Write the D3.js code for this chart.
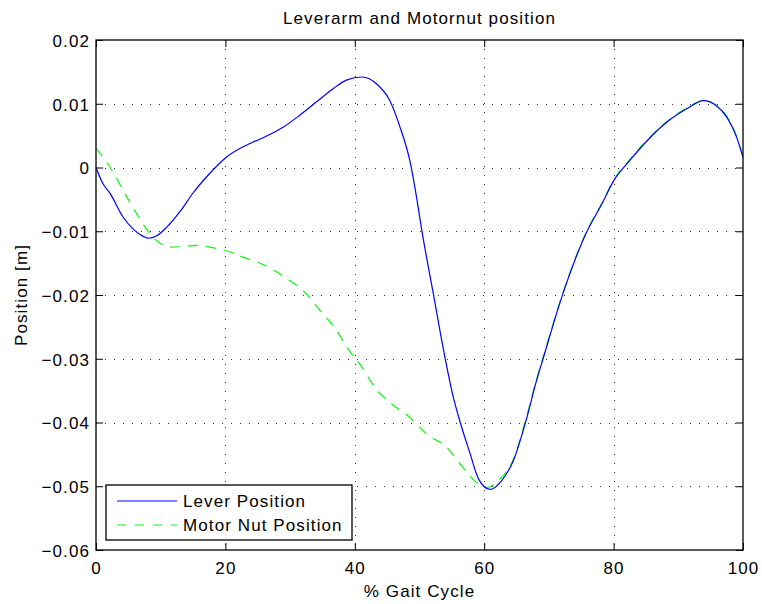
<!DOCTYPE html>
<html>
<head>
<meta charset="utf-8">
<script src="https://cdn.jsdelivr.net/npm/d3@7"></script>
<style>
body { margin:0; background:#fff; }
svg text { font-family:"Liberation Sans", Arial, Helvetica, sans-serif; fill:#000; letter-spacing:1.1px; }
.grid line { stroke:#333; stroke-width:1; stroke-dasharray:1,8; }
</style>
</head>
<body>
<svg id="chart"></svg>
<script>
// values
var leverPct = [0,1.0,2.2,4.2,5.8,7.3,8.1,9.4,10.9,13.0,15.0,17.6,20.0,24.3,25.9,28.9,31.5,34.1,36.7,38.7,41.1,43.4,45.4,47.0,48.5,49.6,50.3,52.1,53.9,55.1,56.3,57.8,59.1,60.9,62.7,64.5,66.3,68.1,69.1,72.0,75.8,78.2,80.0,82.5,85.0,88.2,91.3,93.9,95.9,97.5,99.0,100];
var leverPos = [0,-0.0024,-0.0041,-0.0078,-0.0097,-0.0108,-0.0111,-0.0107,-0.0094,-0.0069,-0.0040,-0.0009,0.0015,0.0040,0.0047,0.0063,0.0082,0.0103,0.0124,0.0137,0.0142,0.0131,0.0105,0.0063,0.0011,-0.0050,-0.0095,-0.0196,-0.0296,-0.0355,-0.0400,-0.0448,-0.0488,-0.0505,-0.0491,-0.0460,-0.0403,-0.0334,-0.0300,-0.0203,-0.0102,-0.0057,-0.0021,0.0011,0.0040,0.0071,0.0092,0.0105,0.0097,0.0079,0.0048,0.0016];

var nutPct = [0,2.2,4.2,6.3,8.6,10.4,11.4,13.5,15.6,17.6,21.2,22.8,26.0,29.3,32.3,34.6,37.0,39.0,41.1,43.1,45.7,48.5,51.1,54.2,56.5,58.8,60.4,62.4,64.5,66.3,68.1,69.1,72.0,75.8,78.2,80.0,82.5,85.0,88.2,91.3,93.9,95.9,97.5,99.0,100];
var nutPos = [0.0030,0.0000,-0.0036,-0.0073,-0.0107,-0.0122,-0.0125,-0.0124,-0.0122,-0.0125,-0.0134,-0.0141,-0.0153,-0.0173,-0.0196,-0.0224,-0.0253,-0.0285,-0.0313,-0.0345,-0.0371,-0.0392,-0.0418,-0.0439,-0.0468,-0.0494,-0.0502,-0.0489,-0.0458,-0.0400,-0.0332,-0.0298,-0.0202,-0.0101,-0.0056,-0.0020,0.0012,0.0041,0.0072,0.0093,0.0105,0.0097,0.0080,0.0049,0.0016];

var xTicks = [0,20,40,60,80,100];
var yTicks = [-0.06,-0.05,-0.04,-0.03,-0.02,-0.01,0,0.01,0.02];
var seriesNames = ["Lever Position","Motor Nut Position"];

var screen = {width:762,height:604}
var margins = {left:96,right:19,top:40,bottom:54}
var graph =
    {
        width:screen.width-margins.left-margins.right,
        height:screen.height-margins.top-margins.bottom
    }

var svg = d3.select("#chart")
    .attr("width",screen.width)
    .attr("height",screen.height)

var xScale = d3.scaleLinear()
    .domain([0,100])
    .range([0,graph.width])
var yScale = d3.scaleLinear()
    .domain([-0.06,0.02])
    .range([graph.height,0])

var target = svg.append("g")
    .attr("transform","translate("+margins.left+","+margins.top+")")

// dotted grid
var grid = target.append("g").classed("grid",true)
grid.selectAll(".gx")
    .data(xTicks.slice(1,-1))
    .enter()
    .append("line")
    .attr("x1",function(d){return Math.round(xScale(d))+0.5})
    .attr("x2",function(d){return Math.round(xScale(d))+0.5})
    .attr("y1",0)
    .attr("y2",graph.height)
grid.selectAll(".gy")
    .data(yTicks.slice(1,-1))
    .enter()
    .append("line")
    .attr("y1",function(d){return Math.round(yScale(d))+0.5})
    .attr("y2",function(d){return Math.round(yScale(d))+0.5})
    .attr("x1",0)
    .attr("x2",graph.width)

// lines
target.append("clipPath")
    .attr("id","clip")
    .append("rect")
    .attr("width",graph.width)
    .attr("height",graph.height)

var line = d3.line()
    .x(function(d){return xScale(d[0])})
    .y(function(d){return yScale(d[1])})
    .curve(d3.curveMonotoneX)

var nutData = nutPct.map(function(p,i){return [p,nutPos[i]]})
var leverData = leverPct.map(function(p,i){return [p,leverPos[i]]})

target.append("path")
    .datum(nutData)
    .attr("clip-path","url(#clip)")
    .attr("d",line)
    .attr("fill","none")
    .attr("stroke","#00ff00")
    .attr("stroke-width",1.2)
    .attr("stroke-dasharray","10,8")
target.append("path")
    .datum(leverData)
    .attr("clip-path","url(#clip)")
    .attr("d",line)
    .attr("fill","none")
    .attr("stroke","#0000ff")
    .attr("stroke-width",1.2)

// axes, ticks inward on all four sides
var fmtY = function(d){ return d===0 ? "0" : d3.format(".2f")(d) }
var xAxis = d3.axisBottom(xScale).tickValues(xTicks).tickSize(-7).tickPadding(12)
var yAxis = d3.axisLeft(yScale).tickValues(yTicks).tickSize(-7).tickPadding(6).tickFormat(fmtY)
var xTop = d3.axisTop(xScale).tickValues(xTicks).tickSize(-7).tickFormat("")
var yRight = d3.axisRight(yScale).tickValues(yTicks).tickSize(-7).tickFormat("")

var gx = target.append("g")
    .attr("transform","translate(0,"+graph.height+")")
    .call(xAxis)
var gy = target.append("g").call(yAxis)
var gt = target.append("g").call(xTop)
var gr = target.append("g")
    .attr("transform","translate("+graph.width+",0)")
    .call(yRight)
svg.selectAll(".domain").remove()
svg.selectAll(".tick line").attr("stroke","#000")
svg.selectAll(".tick text")
    .attr("font-size",17)
    .attr("font-family",null)
gy.selectAll(".tick text").attr("dy","0.38em")

target.append("rect")
    .attr("x",0)
    .attr("y",0)
    .attr("width",graph.width)
    .attr("height",graph.height)
    .attr("fill","none")
    .attr("stroke","#000")
    .attr("stroke-width",1.3)

// labels
var labels = svg.append("g")
labels.append("text")
    .text("Leverarm and Motornut position")
    .attr("text-anchor","middle")
    .attr("font-size",17)
    .attr("x",margins.left+graph.width/2)
    .attr("y",24)
labels.append("text")
    .text("% Gait Cycle")
    .attr("text-anchor","middle")
    .attr("font-size",17)
    .attr("x",margins.left+graph.width/2)
    .attr("y",597)
labels.append("g")
    .attr("transform","translate(27,"+(margins.top+graph.height/2)+")")
    .append("text")
    .text("Position [m]")
    .attr("text-anchor","middle")
    .attr("font-size",17)
    .attr("transform","rotate(270)")

// legend
var legend = svg.append("g")
    .attr("transform","translate(106,485)")
legend.append("rect")
    .attr("width",246)
    .attr("height",55)
    .attr("fill","#fff")
    .attr("stroke","#000")
    .attr("stroke-width",1.3)
var legendStyles = [
    {color:"#0000ff",dash:null},
    {color:"#00ff00",dash:"9,9"}
]
var entries = legend.selectAll(".entry")
    .data(seriesNames)
    .enter()
    .append("g")
    .attr("transform",function(d,i){return "translate(0,"+(16+i*24)+")"})
entries.append("line")
    .attr("x1",11)
    .attr("x2",71)
    .attr("stroke",function(d,i){return legendStyles[i].color})
    .attr("stroke-width",1.2)
    .attr("stroke-dasharray",function(d,i){return legendStyles[i].dash})
entries.append("text")
    .text(function(d){return d})
    .attr("x",77)
    .attr("dy","0.36em")
    .attr("font-size",17)
</script>
</body>
</html>
